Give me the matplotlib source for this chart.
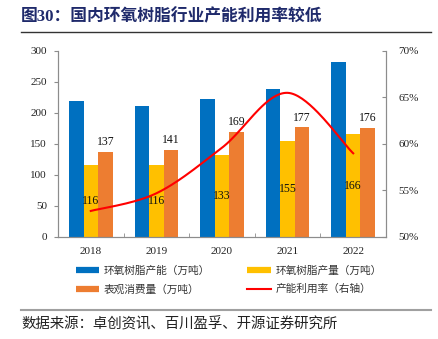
import numpy as np
import matplotlib
matplotlib.use("Agg")
import matplotlib.pyplot as plt
from matplotlib.lines import Line2D

years = ["2018", "2019", "2020", "2021", "2022"]
capacity = [220, 212, 222, 238, 283]        # 环氧树脂产能（万吨）
output = [116, 116, 133, 155, 166]          # 环氧树脂产量（万吨）
consumption = [137, 141, 169, 177, 176]     # 表观消费量（万吨）
utilization = [52.8, 54.7, 59.6, 65.5, 59.0]  # 产能利用率（%）

left_ticks = [0, 50, 100, 150, 200, 250, 300]
right_ticks = [50, 55, 60, 65, 70]

C_BLUE = "#0070C0"
C_YELLOW = "#FFC000"
C_ORANGE = "#ED7D31"
C_RED = "#FF0000"
C_AXIS = "#8C8C8C"

SERIF = ["Liberation Serif", "Noto Sans CJK SC"]
CJK = ["Noto Sans CJK SC", "DejaVu Sans"]


def smooth_curve(xs, ys, steps=40):
    """Bezier smoothing through every point (Catmull-Rom style)."""
    xs = np.asarray(xs, float)
    ys = np.asarray(ys, float)
    n = len(xs)
    px, py = [], []
    for i in range(n - 1):
        x0, y0 = xs[max(i - 1, 0)], ys[max(i - 1, 0)]
        x1, y1 = xs[i], ys[i]
        x2, y2 = xs[i + 1], ys[i + 1]
        x3, y3 = xs[min(i + 2, n - 1)], ys[min(i + 2, n - 1)]
        c1x, c1y = x1 + (x2 - x0) / 6, y1 + (y2 - y0) / 6
        c2x, c2y = x2 - (x3 - x1) / 6, y2 - (y3 - y1) / 6
        t = np.linspace(0, 1, steps)
        b0, b1, b2, b3 = (1 - t) ** 3, 3 * (1 - t) ** 2 * t, 3 * (1 - t) * t ** 2, t ** 3
        px.append(b0 * x1 + b1 * c1x + b2 * c2x + b3 * x2)
        py.append(b0 * y1 + b1 * c1y + b2 * c2y + b3 * y2)
    return np.concatenate(px), np.concatenate(py)


fig = plt.figure(figsize=(4.39, 3.39), dpi=100)
ax = fig.add_axes([0.1321, 0.3009, 0.7472, 0.5487])
ax2 = ax.twinx()

x = np.arange(len(years))
w = 0.222
ax.bar(x - w, capacity, w, color=C_BLUE, zorder=2)
ax.bar(x, output, w, color=C_YELLOW, zorder=2)
ax.bar(x + w, consumption, w, color=C_ORANGE, zorder=2)

for xi, v in zip(x, output):
    ax.text(xi, v / 2, f"{v}", ha="center", va="center", fontsize=8.5,
            family=SERIF, color="#111111", zorder=5)
for xi, v in zip(x + w, consumption):
    ax.text(xi, v + 6, f"{v}", ha="center", va="bottom", fontsize=8.5,
            family=SERIF, color="#111111", zorder=5)

sx, sy = smooth_curve(x, utilization)
ax2.plot(sx, sy, color=C_RED, lw=1.5, zorder=4)

ax.set_xlim(-0.5, len(years) - 0.5)
ax.set_ylim(0, 300)
ax2.set_ylim(50, 70)
ax.set_yticks(left_ticks)
ax2.set_yticks(right_ticks)
ax2.set_yticklabels([f"{t}%" for t in right_ticks])

ax.set_xticks(x)
ax.set_xticklabels(years)
ax.set_xticks(np.arange(len(years) + 1) - 0.5, minor=True)
ax.tick_params(axis="x", which="major", length=0, pad=7)
ax.tick_params(axis="x", which="minor", direction="in", length=3, color=C_AXIS)
ax.tick_params(axis="y", direction="out", length=3, color=C_AXIS, pad=5)
ax2.tick_params(axis="y", direction="in", length=3, color=C_AXIS, pad=9)

for a in (ax, ax2):
    for lab in a.get_xticklabels() + a.get_yticklabels():
        lab.set_family(SERIF)
        lab.set_fontsize(8)
        lab.set_color("#222222")
    a.spines["top"].set_visible(False)
    for s in ("left", "right", "bottom"):
        a.spines[s].set_color(C_AXIS)
        a.spines[s].set_linewidth(0.8)

# legend
handles = [
    Line2D([], [], color=C_BLUE, lw=4.5, solid_capstyle="butt"),
    Line2D([], [], color=C_ORANGE, lw=4.5, solid_capstyle="butt"),
    Line2D([], [], color=C_YELLOW, lw=4.5, solid_capstyle="butt"),
    Line2D([], [], color=C_RED, lw=1.5),
]
labels = ["环氧树脂产能（万吨）", "表观消费量（万吨）", "环氧树脂产量（万吨）", "产能利用率（右轴）"]
leg = fig.legend(handles, labels, ncol=2, loc="upper left",
                 bbox_to_anchor=(0.173, 0.216), frameon=False,
                 prop={"family": CJK, "size": 7.7}, handlelength=2.2,
                 handletextpad=0.4, columnspacing=3.5, labelspacing=0.75,
                 borderpad=0, borderaxespad=0)
for t in leg.get_texts():
    t.set_color("#333333")

# title and rules
fig.text(0.048, 0.950, "图30：国内环氧树脂行业产能利用率较低", ha="left", va="center",
         fontsize=12.1, fontweight="bold", family=SERIF, color="#1F2A6B")
fig.add_artist(Line2D([0.048, 0.982], [0.905, 0.905], color="#333333", lw=1.0))
fig.add_artist(Line2D([0.048, 0.982], [0.086, 0.086], color="#A0A0A0", lw=1.5))
fig.text(0.048, 0.045, "数据来源：卓创资讯、百川盈孚、开源证券研究所", ha="left", va="center",
         fontsize=10.4, family=CJK, color="#222222")

fig.savefig("out.png", dpi=100)
